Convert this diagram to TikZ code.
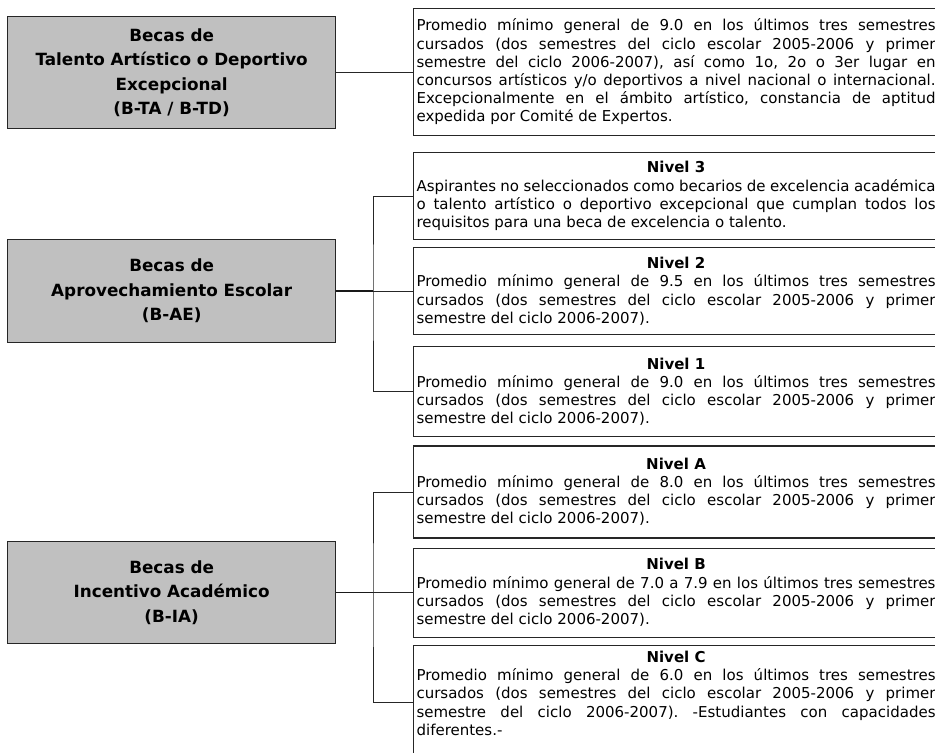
\documentclass[tikz,border=0pt]{standalone}
\usepackage{fontspec}
\setmainfont{DejaVu Sans}
\usepackage{xcolor}
\usepackage{tikz}
\usetikzlibrary{positioning}
\definecolor{becagray}{RGB}{192,192,192}
\tikzset{
  becabox/.style={rectangle, draw=black!85, line width=1.3bp, fill=becagray, minimum width=328bp, align=center, anchor=north west, font=\fontsize{16.8bp}{24.5bp}\selectfont\bfseries},
  nivelbox/.style={rectangle, draw=black!85, line width=1.1bp, text width=519bp, inner xsep=3bp, inner ysep=2bp, align=justify, font=\fontsize{15bp}{18.2bp}\selectfont},
  link/.style={line width=0.9bp, draw=black!85},
  trunk/.style={line width=1.5bp, draw=black!90}
}
\newcommand{\nivel}[1]{{\centering\bfseries Nivel #1\par}}
\newcommand{\promedio}[1]{Promedio mínimo general de #1 en los últimos tres semestres\linebreak cursados (dos semestres del ciclo escolar 2005-2006 y primer\linebreak semestre del ciclo 2006-2007).}
\hyphenpenalty=10000
\exhyphenpenalty=10000
\tolerance=10000
\frenchspacing
\begin{document}
\begin{tikzpicture}[x=1bp, y=-1bp]
    \useasboundingbox (0,0) rectangle (935,753);
    \clip (0,0) rectangle (935,753);

    % Becas
    \node[becabox, minimum height=112bp] (talento) at (7,16) {Becas de\\Talento Artístico o Deportivo\\Excepcional\\(B-TA / B-TD)};
    \node[becabox, minimum height=103bp] (aprov) at (7,239) {Becas de\\Aprovechamiento Escolar\\(B-AE)};
    \node[becabox, minimum height=102bp] (incent) at (7,541) {Becas de\\Incentivo Académico\\(B-IA)};

    % Requisitos
    \node[nivelbox, minimum height=127bp, anchor=north west] (req) at (413,8) {Promedio mínimo general de 9.0 en los últimos tres semestres\linebreak cursados (dos semestres del ciclo escolar 2005-2006 y primer\linebreak semestre del ciclo 2006-2007), así como 1o, 2o o 3er lugar en\linebreak concursos artísticos y/o deportivos a nivel nacional o internacional.\linebreak Excepcionalmente en el ámbito artístico, constancia de aptitud\linebreak expedida por Comité de Expertos.};
    \node[nivelbox, minimum height=87bp, below=16bp of req] (niv3) {\nivel{3}Aspirantes no seleccionados como becarios de excelencia académica\linebreak o talento artístico o deportivo excepcional que cumplan todos los\linebreak requisitos para una beca de excelencia o talento.};
    \node[nivelbox, minimum height=87bp, below=7bp of niv3] (niv2) {\nivel{2}\promedio{9.5}};
    \node[nivelbox, minimum height=90bp, below=11bp of niv2] (niv1) {\nivel{1}\promedio{9.0}};
    \node[nivelbox, minimum height=92bp, below=8bp of niv1] (nivA) {\nivel{A}\promedio{8.0}};
    \node[nivelbox, minimum height=89bp, below=9bp of nivA] (nivB) {\nivel{B}\promedio{7.0 a 7.9}};
    \node[nivelbox, inner ysep=6bp, below=7bp of nivB] (nivC) {\nivel{C}Promedio mínimo general de 6.0 en los últimos tres semestres\linebreak cursados (dos semestres del ciclo escolar 2005-2006 y primer\linebreak semestre del ciclo 2006-2007). -Estudiantes con capacidades\linebreak diferentes.-\rule[-22bp]{0pt}{0pt}};

    \coordinate (bar) at (373,0);

    % Conectores
    \draw[link] (talento.east) -- (talento.east -| req.west);
    \draw[trunk] (aprov.east) -- (aprov.east -| bar);
    \draw[link] (aprov.east -| bar) -- (aprov.east -| niv2.west);
    \draw[link] (niv3.west) -| (aprov.east -| bar) |- (niv1.west);
    \draw[trunk] (incent.east) -- (incent.east -| bar);
    \draw[link] (incent.east -| bar) -- (incent.east -| nivB.west);
    \draw[link] (nivA.west) -| (incent.east -| bar) |- ([yshift=-58bp]nivC.north west);
\end{tikzpicture}
\end{document}
